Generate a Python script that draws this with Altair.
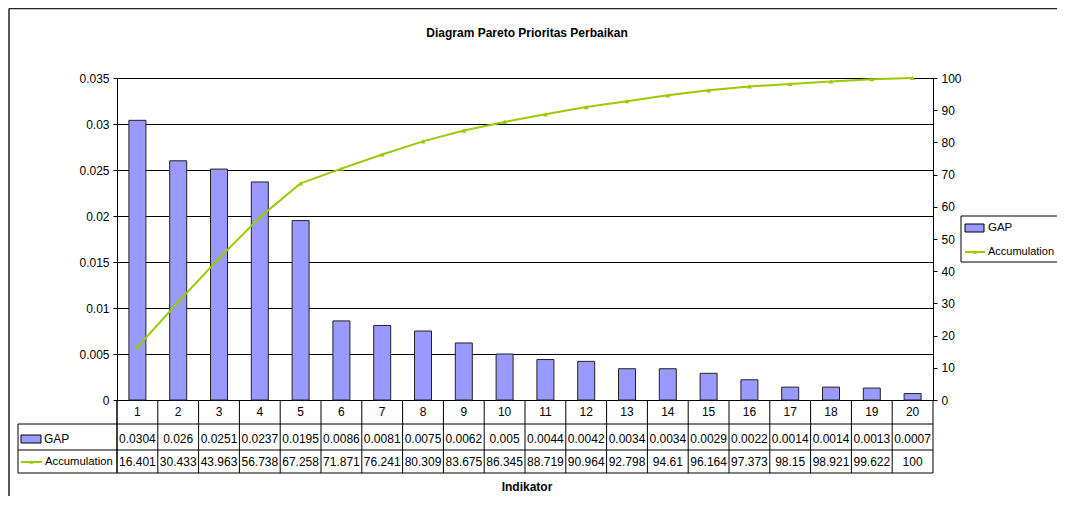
import altair as alt
import pandas as pd

# ---- data ----
categories = list(range(1, 21))
gap_values = [0.0304, 0.026, 0.0251, 0.0237, 0.0195, 0.0086, 0.0081, 0.0075, 0.0062, 0.005,
              0.0044, 0.0042, 0.0034, 0.0034, 0.0029, 0.0022, 0.0014, 0.0014, 0.0013, 0.0007]
acc_values = [16.401, 30.433, 43.963, 56.738, 67.258, 71.871, 76.241, 80.309, 83.675, 86.345,
              88.719, 90.964, 92.798, 94.61, 96.164, 97.373, 98.15, 98.921, 99.622, 100]
gap_labels = ["0.0304", "0.026", "0.0251", "0.0237", "0.0195", "0.0086", "0.0081", "0.0075", "0.0062", "0.005",
              "0.0044", "0.0042", "0.0034", "0.0034", "0.0029", "0.0022", "0.0014", "0.0014", "0.0013", "0.0007"]
acc_labels = ["16.401", "30.433", "43.963", "56.738", "67.258", "71.871", "76.241", "80.309", "83.675", "86.345",
              "88.719", "90.964", "92.798", "94.61", "96.164", "97.373", "98.15", "98.921", "99.622", "100"]
left_ticks = [0, 0.005, 0.01, 0.015, 0.02, 0.025, 0.03, 0.035]
right_ticks = [0, 10, 20, 30, 40, 50, 60, 70, 80, 90, 100]

df = pd.DataFrame({"cat": categories, "gap": gap_values, "acc": acc_values,
                   "gapLabel": gap_labels, "accLabel": acc_labels})
one = pd.DataFrame({"k": [0]})

W, H = 816, 322
FONT = "Liberation Sans"
BAR = "#9999FF"
GREEN = "#99CC00"

xs = alt.Scale(domain=categories, paddingInner=0, paddingOuter=0)
X = alt.X("cat:O", scale=xs, axis=None)

base = alt.Chart(df)

bars = base.mark_bar(size=17, color=BAR, stroke="#222222", strokeWidth=1).encode(
    x=X,
    y=alt.Y("gap:Q", scale=alt.Scale(domain=[0, 0.035], nice=False),
            axis=alt.Axis(orient="left", values=left_ticks, grid=True, gridColor="black",
                          gridWidth=1, title=None,
                          labelExpr="datum.value == 0 ? '0' : format(datum.value, '.3~f')",
                          labelFont=FONT, labelFontSize=12, labelColor="black",
                          tickColor="black", tickSize=4, labelPadding=4,
                          domainColor="black")),
)

line = base.mark_line(color=GREEN, strokeWidth=2,
                      point=alt.OverlayMarkDef(shape="triangle-up", filled=True, size=24,
                                               color=GREEN)).encode(
    x=X,
    y=alt.Y("acc:Q", scale=alt.Scale(domain=[0, 100], nice=False),
            axis=alt.Axis(orient="right", values=right_ticks, grid=False, title=None,
                          labelFont=FONT, labelFontSize=12, labelColor="black",
                          tickColor="black", tickSize=4, labelPadding=4,
                          domainColor="black")),
)

def txt(y, field, **kw):
    return base.mark_text(font=FONT, fontSize=12, color="black", baseline="middle", **kw).encode(
        x=X, y=alt.value(y), text=field)

row_cat = txt(334, "cat:N")
row_gap = txt(361, "gapLabel:N")
row_acc = txt(384, "accLabel:N")

def hrule(y, x1, x2, color="black", width=1):
    return alt.Chart(one).mark_rule(color=color, strokeWidth=width).encode(
        x=alt.value(x1), x2=alt.value(x2), y=alt.value(y))

def vrule(x, y1, y2, color="black", width=1):
    return alt.Chart(one).mark_rule(color=color, strokeWidth=width).encode(
        x=alt.value(x), y=alt.value(y1), y2=alt.value(y2))

cell_edges = base.mark_rule(color="black", strokeWidth=1).encode(
    x=alt.X("cat:O", scale=xs, axis=None, bandPosition=0),
    y=alt.value(H), y2=alt.value(395))

table_lines = [
    hrule(346, -99, W), hrule(372, -99, W), hrule(395, -99, W),
    vrule(W, H, 395), vrule(-99, 346, 395), vrule(0, H, 395),
]

# header keys in table
key_gap = alt.Chart(one).mark_rect(fill=BAR, stroke="black", strokeWidth=1).encode(
    x=alt.value(-96), x2=alt.value(-76), y=alt.value(357), y2=alt.value(365))
key_gap_t = alt.Chart(one).mark_text(font=FONT, fontSize=12, align="left", baseline="middle").encode(
    x=alt.value(-73), y=alt.value(361), text=alt.value("GAP"))
key_acc = hrule(384, -96, -75, GREEN, 2)
key_acc_p = alt.Chart(one).mark_point(shape="triangle-up", filled=True, size=22, color=GREEN).encode(
    x=alt.value(-85.5), y=alt.value(384))
key_acc_t = alt.Chart(one).mark_text(font=FONT, fontSize=11.3, align="left", baseline="middle").encode(
    x=alt.value(-72), y=alt.value(384), text=alt.value("Accumulation"))

# legend
leg_box = alt.Chart(one).mark_rect(fill="white", stroke="black", strokeWidth=1).encode(
    x=alt.value(844), x2=alt.value(980), y=alt.value(138), y2=alt.value(184))
leg_sq = alt.Chart(one).mark_rect(fill=BAR, stroke="black", strokeWidth=1).encode(
    x=alt.value(848), x2=alt.value(867), y=alt.value(146), y2=alt.value(154))
leg_sq_t = alt.Chart(one).mark_text(font=FONT, fontSize=11.5, align="left", baseline="middle").encode(
    x=alt.value(871), y=alt.value(150), text=alt.value("GAP"))
leg_ln = hrule(174, 848, 868, GREEN, 2)
leg_pt = alt.Chart(one).mark_point(shape="triangle-up", filled=True, size=22, color=GREEN).encode(
    x=alt.value(858), y=alt.value(174))
leg_ln_t = alt.Chart(one).mark_text(font=FONT, fontSize=11, align="left", baseline="middle").encode(
    x=alt.value(871), y=alt.value(174), text=alt.value("Accumulation"))

# titles
title = alt.Chart(one).mark_text(font=FONT, fontSize=12, fontWeight="bold", baseline="middle").encode(
    x=alt.value(W / 2 + 2), y=alt.value(-45), text=alt.value("Diagram Pareto Prioritas Perbaikan"))
xtitle = alt.Chart(one).mark_text(font=FONT, fontSize=12, fontWeight="bold", baseline="middle").encode(
    x=alt.value(W / 2 + 2), y=alt.value(409), text=alt.value("Indikator"))

# outer frame
frame = [vrule(-108, -69.5, 430, "#222222", 1.5), hrule(-69.5, -108, 960, "#222222", 1.5)]

chart = alt.layer(
    bars, line, row_cat, row_gap, row_acc, cell_edges, *table_lines,
    key_gap, key_gap_t, key_acc, key_acc_p, key_acc_t,
    leg_box, leg_sq, leg_sq_t, leg_ln, leg_pt, leg_ln_t,
    title, xtitle, *frame,
).resolve_scale(y="independent").properties(
    width=W, height=H,
    padding={"left": 109, "top": 70, "right": 124, "bottom": 96},
    autosize=alt.AutoSizeParams(type="none"),
).configure_view(stroke=None).configure(background="white")

chart.save("out.html", embed_options={"renderer": "svg", "actions": False})
